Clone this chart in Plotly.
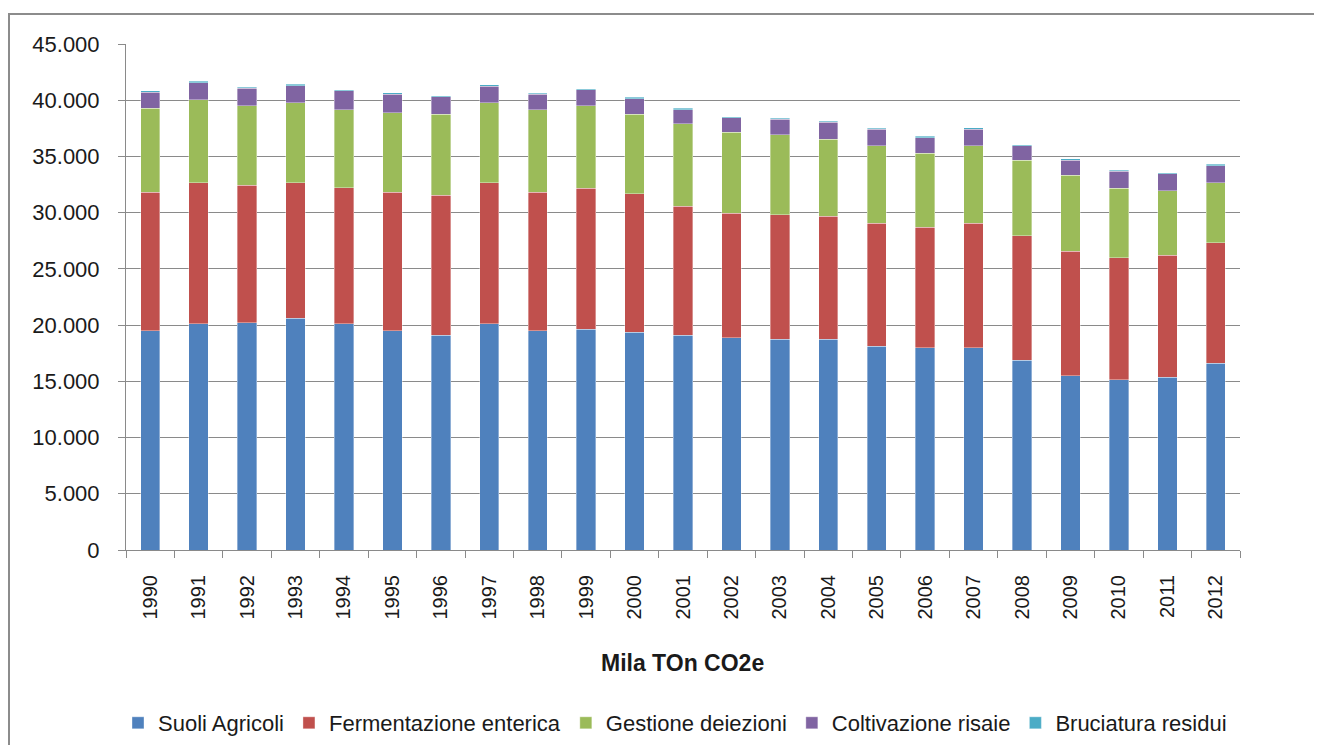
import plotly.graph_objects as go

years = [str(y) for y in range(1990, 2013)]

suoli_agricoli = [19480, 20100, 20215, 20630, 20100, 19480, 19090, 20100, 19480, 19620, 19360, 19090,
                  18880, 18740, 18740, 18110, 17990, 17990, 16870, 15500, 15150, 15385, 16630]
fermentazione_enterica = [12330, 12570, 12210, 12030, 12095, 12330, 12480, 12570, 12330, 12570, 12330, 11500,
                          11060, 11080, 10960, 10970, 10710, 11090, 11080, 11090, 10820, 10825, 10700]
gestione_deiezioni = [7470, 7360, 7080, 7115, 6970, 7080, 7200, 7115, 7350, 7320, 7080, 7320,
                      7230, 7090, 6850, 6850, 6600, 6850, 6730, 6730, 6220, 5740, 5340]
coltivazione_risaie = [1450, 1540, 1550, 1520, 1660, 1660, 1520, 1480, 1370, 1400, 1360, 1250,
                       1270, 1390, 1480, 1480, 1370, 1510, 1250, 1360, 1510, 1490, 1510]
bruciatura_residui = [110, 120, 100, 120, 120, 120, 110, 120, 110, 120, 120, 120,
                      100, 100, 120, 120, 120, 120, 110, 120, 90, 110, 120]

series = [
    ("Suoli Agricoli", suoli_agricoli, "#4F81BD"),
    ("Fermentazione enterica", fermentazione_enterica, "#C0504D"),
    ("Gestione deiezioni", gestione_deiezioni, "#9BBB59"),
    ("Coltivazione risaie", coltivazione_risaie, "#8064A2"),
    ("Bruciatura residui", bruciatura_residui, "#4BACC6"),
]

FONT = "Liberation Sans, Arial, sans-serif"
GRID = "#8a8a8a"

fig = go.Figure()
for name, vals, col in series:
    fig.add_trace(go.Bar(
        x=years, y=vals, name=name,
        marker=dict(color=col, line=dict(color="rgba(255,255,255,0.6)", width=0.6)),
    ))

# page body has an 8px margin; figure is drawn starting at (8, 8)
OFF = 8
W, H = 1322 - OFF, 753 - 2 * OFF
L, R, T, B = 126, 1240, 44, 550  # target plot-area edges in page pixels
pw, ph = R - L, B - T


def px(x):
    return (x - L) / pw


def py(y):
    return (B - y) / ph


fig.update_layout(
    width=W, height=H,
    margin=dict(l=L - OFF, r=(OFF + W) - R, t=T - OFF, b=(OFF + H) - B, autoexpand=False),
    barmode="stack",
    bargap=0.6,
    separators=",.",
    paper_bgcolor="white",
    plot_bgcolor="white",
    font=dict(family=FONT, color="#1a1a1a", size=21),
    showlegend=True,
    legend=dict(
        orientation="h",
        x=px(675), xanchor="center",
        y=py(723), yanchor="middle",
        font=dict(size=22, color="#1a1a1a"),
        traceorder="normal",
        itemclick=False,
    ),
    xaxis=dict(
        type="category",
        showline=True, linecolor=GRID, linewidth=1,
        ticks="outside", ticklen=7, tickcolor=GRID, tickwidth=1,
        tickson="boundaries",
        tickangle=-90,
        tickfont=dict(size=20, color="#1a1a1a"),
        ticklabelstandoff=16,
        showgrid=False,
    ),
    yaxis=dict(
        range=[0, 45000],
        dtick=5000, tick0=0,
        tickformat=",d",
        showline=True, linecolor=GRID, linewidth=1,
        ticks="outside", ticklen=7, tickcolor=GRID, tickwidth=1,
        showgrid=True, gridcolor=GRID, gridwidth=1,
        zeroline=False,
        tickfont=dict(size=22, color="#1a1a1a"),
        ticklabelstandoff=14,
    ),
    annotations=[dict(
        text="<b>Mila TOn CO2e</b>",
        xref="paper", yref="paper",
        x=px(682), y=py(663),
        xanchor="center", yanchor="middle",
        showarrow=False,
        font=dict(size=23, family=FONT, color="#1a1a1a"),
    )],
    shapes=[dict(
        type="rect", xref="paper", yref="paper",
        x0=px(9), x1=px(1345), y0=py(14), y1=py(780),
        line=dict(color="#8c8c8c", width=2),
        fillcolor="rgba(0,0,0,0)",
        layer="below",
    )],
)

fig.write_html("out.html")
